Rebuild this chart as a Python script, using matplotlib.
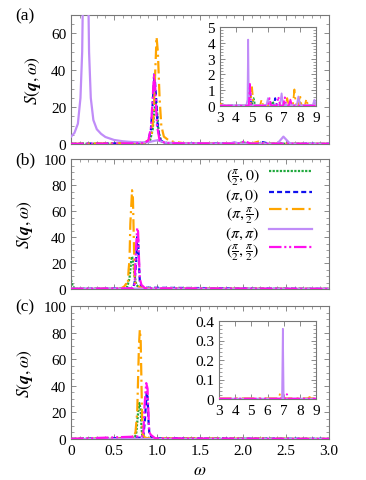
import matplotlib
matplotlib.use("Agg")
import matplotlib.pyplot as plt
from matplotlib.ticker import MultipleLocator, AutoMinorLocator

plt.rcParams["font.family"] = ["Liberation Serif", "DejaVu Serif"]
plt.rcParams["mathtext.fontset"] = "stix"
plt.rcParams["lines.scale_dashes"] = False

# colours / styles of the five momenta
labels = [r"$(\frac{\pi}{2},0)$", r"$(\pi,0)$", r"$(\pi,\frac{\pi}{2})$",
          r"$(\pi,\pi)$", r"$(\frac{\pi}{2},\frac{\pi}{2})$"]
colors = ["#1fa83c", "#1010ee", "#ffa500", "#c08cf8", "#ff10ee"]
styles = [(0, (1.6, 1.0)), (0, (3.6, 2.2)), (0, (9, 3, 1.5, 3)), "-",
          (0, (9, 2, 1.5, 2, 1.5, 2))]

# ---------------- panel (a), main ----------------
a_w_green = [0, 0.85, 0.92, 0.95, 0.97, 0.985, 1.0, 1.02, 1.05, 1.1, 1.9, 2.0, 2.1, 3.0]
a_s_green = [0.1, 0.3, 2, 8, 18, 23, 18, 6, 1.5, 0.4, 0.2, 0.8, 0.2, 0.1]
a_w_blue = [0, 0.85, 0.9, 0.93, 0.95, 0.97, 0.99, 1.01, 1.04, 1.1, 2.15, 2.23, 2.3, 3.0]
a_s_blue = [0.1, 0.4, 2, 8, 22, 38, 25, 8, 2, 0.5, 0.2, 1.0, 0.2, 0.1]
a_w_orange = [0, 0.85, 0.9, 0.94, 0.96, 0.98, 0.995, 1.01, 1.03, 1.05, 1.08, 1.15, 1.3,
              2.1, 2.18, 2.25, 3.0]
a_s_orange = [0.1, 0.5, 2, 6, 15, 40, 58, 50, 25, 10, 4, 1.5, 0.5,
              0.3, 1.3, 0.3, 0.1]
a_w_purple = [0, 0.04, 0.08, 0.11, 0.13, 0.15, 0.17, 0.19, 0.21, 0.23, 0.26, 0.3, 0.35,
              0.4, 0.5, 0.6, 0.7, 0.8, 0.9, 1.0, 1.1, 1.3, 1.6, 1.85, 1.9, 1.95, 2.0,
              2.4, 2.47, 2.54, 2.6, 3.0]
a_s_purple = [4, 6, 11, 25, 50, 120, 200, 120, 50, 25, 13, 8, 5.5,
              3.8, 2.2, 1.5, 1.1, 0.9, 1.0, 2.0, 0.7, 0.4, 0.3, 0.3, 1.0, 0.3, 0.2,
              0.2, 4, 0.5, 0.2, 0.1]
a_w_magenta = [0, 0.85, 0.9, 0.93, 0.95, 0.965, 0.98, 1.0, 1.03, 1.1, 1.95, 2.02, 2.09, 3.0]
a_s_magenta = [0.1, 0.4, 2, 9, 25, 38, 30, 10, 2, 0.4, 0.2, 1.5, 0.2, 0.1]

# ---------------- panel (a), inset ----------------
ia_w_green = [3.0, 5.0, 5.1, 5.2, 6.2, 6.3, 6.4, 9.0]
ia_s_green = [0.02, 0.02, 0.5, 0.02, 0.02, 0.3, 0.02, 0.02]
ia_w_blue = [3.0, 4.8, 4.87, 4.95, 6.35, 6.45, 6.55, 9.0]
ia_s_blue = [0.02, 0.02, 1.3, 0.02, 0.02, 0.5, 0.02, 0.02]
ia_w_orange = [3.0, 3.05, 3.15, 4.9, 5.0, 5.1, 5.5, 5.6, 5.7, 7.1, 7.2, 7.3, 7.55, 7.65,
               7.75, 7.9, 8.0, 8.1, 8.3, 8.4, 8.5, 9.0]
ia_s_orange = [0.1, 0.15, 0.02, 0.02, 1.2, 0.02, 0.02, 0.4, 0.02, 0.02, 0.5, 0.02, 0.02,
               1.05, 0.02, 0.02, 0.7, 0.02, 0.02, 0.45, 0.02, 0.02]
ia_w_purple = [3.0, 4.65, 4.72, 4.76, 4.8, 4.87, 5.9, 6.0, 6.1, 6.75, 6.85, 6.95, 7.8,
               7.9, 8.0, 8.8, 8.9, 9.0]
ia_s_purple = [0.05, 0.05, 0.4, 4.2, 0.4, 0.05, 0.05, 0.5, 0.05, 0.05, 0.8, 0.05, 0.05,
               0.6, 0.05, 0.05, 0.4, 0.05]
ia_w_magenta = [3.0, 4.8, 4.87, 4.95, 6.0, 6.1, 6.2, 6.55, 6.65, 6.75, 6.95, 7.05, 7.15,
                7.3, 7.4, 7.5, 9.0]
ia_s_magenta = [0.02, 0.02, 1.4, 0.02, 0.02, 0.5, 0.02, 0.02, 0.6, 0.02, 0.02, 0.55, 0.02,
                0.02, 0.4, 0.02, 0.02]

# ---------------- panel (b) ----------------
b_w_green = [0, 0.02, 0.05, 0.6, 0.65, 0.68, 0.70, 0.71, 0.72, 0.74, 0.76, 0.8, 0.85, 3.0]
b_s_green = [7, 2, 0.3, 0.2, 1, 8, 22, 25, 22, 10, 3, 1, 0.5, 0.1]
b_w_blue = [0, 0.72, 0.74, 0.76, 0.77, 0.78, 0.79, 0.8, 0.82, 3.0]
b_s_blue = [0.1, 0.5, 5, 25, 40, 38, 20, 6, 1, 0.1]
b_w_orange = [0, 0.58, 0.62, 0.64, 0.66, 0.67, 0.68, 0.69, 0.71, 0.72, 0.73, 0.74, 0.75,
              0.78, 0.82, 0.9, 3.0]
b_s_orange = [0.1, 0.3, 2, 4, 3, 15, 22, 50, 76, 70, 40, 10, 3, 2, 1, 0.5, 0.1]
b_w_purple = [0, 3.0]
b_s_purple = [0.3, 0.2]
b_w_magenta = [0, 0.72, 0.74, 0.755, 0.77, 0.78, 0.79, 0.8, 0.82, 0.84, 0.86, 3.0]
b_s_magenta = [0.1, 0.5, 4, 30, 47, 44, 25, 8, 3, 2, 0.5, 0.1]

# ---------------- panel (c), main ----------------
c_w_green = [0, 0.74, 0.76, 0.78, 0.795, 0.81, 0.82, 0.83, 0.86, 3.0]
c_s_green = [0.1, 0.5, 5, 20, 27, 22, 8, 2, 0.5, 0.1]
c_w_blue = [0, 0.84, 0.86, 0.88, 0.89, 0.9, 0.91, 0.93, 0.96, 3.0]
c_s_blue = [0.1, 1, 15, 35, 32, 15, 5, 2, 0.5, 0.1]
c_w_orange = [0, 0.66, 0.70, 0.72, 0.75, 0.77, 0.79, 0.80, 0.81, 0.82, 0.83, 0.84, 0.86,
              0.9, 3.0]
c_s_orange = [0.1, 0.5, 3, 1, 5, 20, 70, 82, 75, 40, 5, 3, 1, 0.5, 0.1]
c_w_purple = [0, 3.0]
c_s_purple = [0.2, 0.2]
c_w_magenta = [0, 0.84, 0.855, 0.875, 0.89, 0.9, 0.91, 0.93, 0.95, 0.98, 3.0]
c_s_magenta = [0.1, 2, 25, 42, 38, 20, 5, 3, 2, 0.5, 0.1]

# ---------------- panel (c), inset ----------------
ic_w_green = [3.0, 9.0]
ic_s_green = [0.002, 0.002]
ic_w_blue = [3.0, 9.0]
ic_s_blue = [0.002, 0.002]
ic_w_orange = [3.0, 6.7, 6.78, 6.86, 8.5, 8.6, 8.7, 9.0]
ic_s_orange = [0.004, 0.004, 0.03, 0.004, 0.004, 0.01, 0.004, 0.004]
ic_w_purple = [3.0, 6.9, 6.95, 7.0, 9.0]
ic_s_purple = [0.002, 0.002, 0.36, 0.002, 0.002]
ic_w_magenta = [3.0, 7.1, 7.2, 7.3, 9.0]
ic_s_magenta = [0.002, 0.002, 0.025, 0.002, 0.002]

W, H = 366, 481
fig = plt.figure(figsize=(W / 100, H / 100), dpi=100)


def box(l, t, r, b):
    return [l / W, (H - b) / H, (r - l) / W, (b - t) / H]


def style_axes(ax, fs=11):
    for sp in ax.spines.values():
        sp.set_color("#777777")
        sp.set_linewidth(0.8)
    ax.tick_params(which="both", direction="in", top=True, right=True,
                   color="#777777", labelsize=fs)
    ax.tick_params(which="major", length=3.5, width=0.6)
    ax.tick_params(which="minor", length=2, width=0.5)


def draw(ax, series, lw=1.6):
    order = [3, 2, 1, 0, 4]
    for i in order:
        w, s = series[i]
        ax.plot(w, s, color=colors[i], linestyle=styles[i], lw=lw, label=labels[i],
                zorder=2 + i)


ax_a = fig.add_axes(box(71, 16, 329, 145))
ax_b = fig.add_axes(box(71, 160, 329, 290))
ax_c = fig.add_axes(box(71, 307, 329, 440))

draw(ax_a, [(a_w_green, a_s_green), (a_w_blue, a_s_blue), (a_w_orange, a_s_orange),
            (a_w_purple, a_s_purple), (a_w_magenta, a_s_magenta)])
draw(ax_b, [(b_w_green, b_s_green), (b_w_blue, b_s_blue), (b_w_orange, b_s_orange),
            (b_w_purple, b_s_purple), (b_w_magenta, b_s_magenta)])
draw(ax_c, [(c_w_green, c_s_green), (c_w_blue, c_s_blue), (c_w_orange, c_s_orange),
            (c_w_purple, c_s_purple), (c_w_magenta, c_s_magenta)])

for ax, top in [(ax_a, 70), (ax_b, 100), (ax_c, 100)]:
    ax.set_xlim(0, 3.0)
    ax.set_ylim(0, top)
    ax.yaxis.set_major_locator(MultipleLocator(20))
    ax.xaxis.set_major_locator(MultipleLocator(0.5))
    ax.xaxis.set_minor_locator(AutoMinorLocator(5))
    ax.yaxis.set_minor_locator(AutoMinorLocator(4))
    style_axes(ax)
    ax.set_ylabel(r"$S(\boldsymbol{q},\omega)$", fontsize=12.5, labelpad=6)

ax_a.tick_params(labelbottom=False)
ax_b.tick_params(labelbottom=False)
ax_c.set_xticks([0, 0.5, 1.0, 1.5, 2.0, 2.5, 3.0])
ax_c.set_xticklabels(["0", "0.5", "1.0", "1.5", "2.0", "2.5", "3.0"])
ax_c.set_xlabel(r"$\omega$", fontsize=12.5)

# legend in panel (b)
handles, labs = ax_b.get_legend_handles_labels()
idx = [labs.index(l) for l in labels]
ax_b.legend([handles[i] for i in idx], [labs[i] for i in idx], loc="upper right",
            frameon=False, markerfirst=False, fontsize=11.5, handlelength=2.7,
            handleheight=1.6, labelspacing=-0.2, handletextpad=0.6,
            borderaxespad=0.0, borderpad=0.0, bbox_to_anchor=(0.935, 0.965))

# insets
in_a = fig.add_axes(box(220, 28, 316, 107))
draw(in_a, [(ia_w_green, ia_s_green), (ia_w_blue, ia_s_blue), (ia_w_orange, ia_s_orange),
            (ia_w_purple, ia_s_purple), (ia_w_magenta, ia_s_magenta)], lw=1.3)
in_a.set_xlim(3, 9)
in_a.set_ylim(0, 5)
in_a.xaxis.set_major_locator(MultipleLocator(1))
in_a.yaxis.set_major_locator(MultipleLocator(1))
in_a.yaxis.set_minor_locator(AutoMinorLocator(5))
style_axes(in_a, fs=11)

in_c = fig.add_axes(box(219, 322, 316, 400))
draw(in_c, [(ic_w_green, ic_s_green), (ic_w_blue, ic_s_blue), (ic_w_orange, ic_s_orange),
            (ic_w_purple, ic_s_purple), (ic_w_magenta, ic_s_magenta)], lw=1.3)
in_c.set_xlim(3, 9)
in_c.set_ylim(0, 0.4)
in_c.xaxis.set_major_locator(MultipleLocator(1))
in_c.yaxis.set_minor_locator(AutoMinorLocator(5))
in_c.set_yticks([0, 0.1, 0.2, 0.3, 0.4])
in_c.set_yticklabels(["0", "0.1", "0.2", "0.3", "0.4"])
style_axes(in_c, fs=11)

fig.text(15 / W, 1 - 16 / H, "(a)", fontsize=12.5, va="center")
fig.text(15 / W, 1 - 160 / H, "(b)", fontsize=12.5, va="center")
fig.text(15 / W, 1 - 307 / H, "(c)", fontsize=12.5, va="center")

fig.savefig("out.png", dpi=100)
